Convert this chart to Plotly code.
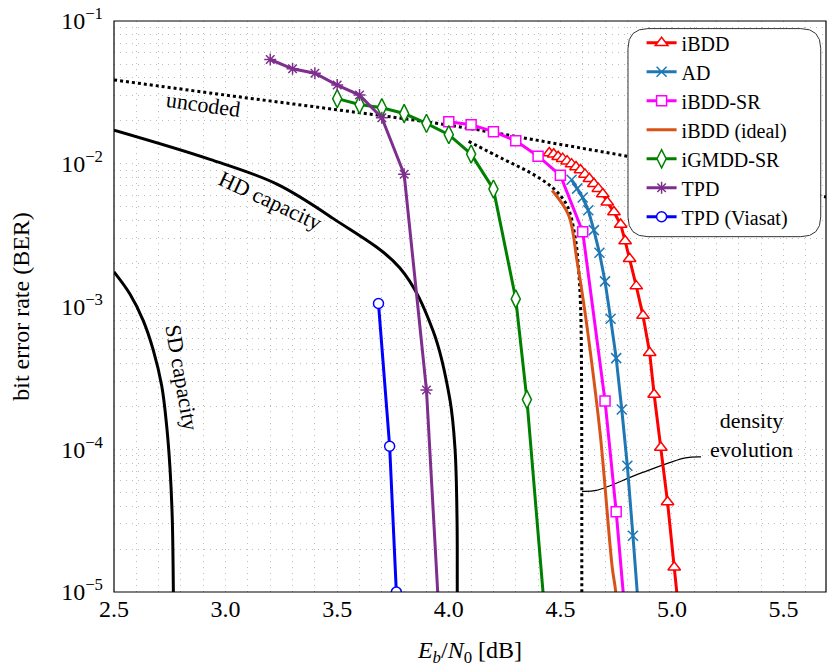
import numpy as np
import plotly.graph_objects as go

# --- data (Eb/N0 in dB, BER) ---

ibdd_x = [4.45, 4.47, 4.49, 4.51, 4.53, 4.55, 4.57, 4.59, 4.61, 4.63, 4.65, 4.67, 4.69,
          4.71, 4.74, 4.77, 4.79, 4.81, 4.84, 4.87, 4.90, 4.92, 4.95, 4.98, 5.01, 5.04]
ibdd_y = [0.0119, 0.01167, 0.01122, 0.01087, 0.01044, 0.00995, 0.0095, 0.00906, 0.00843,
          0.00785, 0.00725, 0.0067, 0.00615, 0.00538, 0.00459, 0.00376, 0.00288, 0.00216,
          0.00139, 8.64e-4, 4.75e-4, 2.42e-4, 1.03e-4, 4.27e-5, 1.49e-5, 5.2e-6]

ad_x = [4.55, 4.575, 4.6, 4.625, 4.65, 4.675, 4.7, 4.725, 4.75, 4.775, 4.8, 4.825, 4.85]
ad_y = [0.00773, 0.0067, 0.0058, 0.00472, 0.00343, 0.00238, 0.0015, 8.2e-4, 4.35e-4,
        1.9e-4, 7.66e-5, 2.48e-5, 7.6e-6]

sr_x = [4.0, 4.1, 4.2, 4.3, 4.4, 4.5, 4.6, 4.7, 4.75, 4.8]
sr_y = [0.0197, 0.0188, 0.0168, 0.0145, 0.0113, 0.0083, 0.00334, 2.18e-4, 3.65e-5, 4.6e-6]

ideal_x = [4.463, 4.537, 4.575, 4.605, 4.635, 4.679, 4.732, 4.747, 4.76]
ideal_y = [0.0065, 0.00436, 0.00207, 0.00104, 4.7e-4, 1.25e-4, 1.5e-5, 1.03e-5, 6e-6]

gmdd_x = [3.5, 3.6, 3.7, 3.8, 3.9, 4.0, 4.1, 4.2, 4.3, 4.35, 4.45]
gmdd_y = [0.0286, 0.026, 0.0247, 0.0225, 0.0192, 0.0160, 0.0117, 0.00665, 0.00113,
          2.23e-4, 3e-6]

tpd_x = [3.2, 3.3, 3.4, 3.5, 3.6, 3.7, 3.8, 3.9, 4.0]
tpd_y = [0.0538, 0.0463, 0.0431, 0.0356, 0.0303, 0.0210, 0.00845, 2.6e-4, 4e-7]

viasat_x = [3.685, 3.735, 3.765]
viasat_y = [1.05e-3, 1.05e-4, 1.0e-5]

uncoded_x = [2.5, 3.0, 3.5, 4.0, 4.5, 5.0, 5.5, 5.7]
uncoded_y = [0.0387, 0.0303, 0.0239, 0.01866, 0.01367, 0.00989, 0.00686, 0.0058]

hd_x = [2.5, 2.93, 3.23, 3.483, 3.78, 3.929, 4.005, 4.028, 4.037, 4.038, 4.039]
hd_y = [0.0172, 0.01074, 0.00721, 0.00413, 0.00187, 6.8e-4, 2.23e-4, 1.0e-4, 3.14e-5,
        1e-5, 5e-6]

sd_x = [2.5, 2.572, 2.631, 2.676, 2.714, 2.736, 2.751, 2.761, 2.766, 2.767]
sd_y = [1.75e-3, 1.22e-3, 7.97e-4, 4.95e-4, 2.77e-4, 1.46e-4, 7.33e-5, 3.31e-5, 1e-5, 5e-6]

de_x = [4.089, 4.246, 4.365, 4.463, 4.53, 4.567, 4.582, 4.59, 4.594, 4.596, 4.596]
de_y = [0.01436, 0.01074, 0.00867, 0.00684, 0.0051, 0.003, 0.00177, 0.00104, 4.85e-4,
        1e-5, 5e-6]

# leader line from the "density evolution" label
leader_x = [4.597, 4.66, 4.86, 5.06, 5.13]
leader_y = [5.07e-5, 5.15e-5, 6.8e-5, 8.7e-5, 8.85e-5]

FONT = "Liberation Serif"
GRID = '#bdbdbd'
GDASH = '1px,5px'

fig = go.Figure()

# reference curves (no legend)
fig.add_trace(go.Scatter(x=uncoded_x, y=uncoded_y, mode='lines', showlegend=False,
                         line=dict(color='black', width=3, dash='dot', shape='spline')))
fig.add_trace(go.Scatter(x=hd_x, y=hd_y, mode='lines', showlegend=False,
                         line=dict(color='black', width=3, shape='spline')))
fig.add_trace(go.Scatter(x=sd_x, y=sd_y, mode='lines', showlegend=False,
                         line=dict(color='black', width=3, shape='spline')))
fig.add_trace(go.Scatter(x=de_x, y=de_y, mode='lines', showlegend=False,
                         line=dict(color='black', width=3, dash='dot', shape='spline')))
fig.add_trace(go.Scatter(x=leader_x, y=leader_y, mode='lines', showlegend=False,
                         line=dict(color='black', width=1.2, shape='spline')))

# simulated curves
series = [
    ('iBDD', ibdd_x, ibdd_y, '#ff0000', 'triangle-up', 11),
    ('AD', ad_x, ad_y, '#1f77b4', 'x-thin', 10),
    ('iBDD-SR', sr_x, sr_y, '#ff00ff', 'square', 10),
    ('iBDD (ideal)', ideal_x, ideal_y, '#d95319', None, 0),
    ('iGMDD-SR', gmdd_x, gmdd_y, '#008000', 'diamond-tall', 13),
    ('TPD', tpd_x, tpd_y, '#7e2f8e', 'asterisk', 10),
    ('TPD (Viasat)', viasat_x, viasat_y, '#0000ff', 'circle', 10),
]

for name, xs, ys, col, sym, size in series:
    if sym is None:
        fig.add_trace(go.Scatter(x=xs, y=ys, name=name, mode='lines',
                                 line=dict(color=col, width=3, shape='spline')))
        continue
    if sym in ('x-thin', 'asterisk'):
        mk = dict(symbol=sym, size=size, color=col, line=dict(color=col, width=1.5))
    else:
        mk = dict(symbol=sym, size=size, color='white', line=dict(color=col, width=1.5))
    fig.add_trace(go.Scatter(x=xs, y=ys, name=name, mode='lines+markers',
                             line=dict(color=col, width=3), marker=mk))

# plot frame
fig.add_shape(type='rect', xref='paper', yref='paper', x0=0, x1=1, y0=0, y1=1,
              line=dict(color='black', width=1.2), layer='above')

# rounded legend box (paper coords)
x0, x1, y0, y1 = 0.7219, 0.9926, 0.6223, 0.9867
rx, ry = 0.028, 0.0345
path = (f"M {x0+rx},{y1} L {x1-rx},{y1} Q {x1},{y1} {x1},{y1-ry} "
        f"L {x1},{y0+ry} Q {x1},{y0} {x1-rx},{y0} L {x0+rx},{y0} "
        f"Q {x0},{y0} {x0},{y0+ry} L {x0},{y1-ry} Q {x0},{y1} {x0+rx},{y1} Z")
fig.add_shape(type='path', path=path, xref='paper', yref='paper', layer='above',
              fillcolor='white', line=dict(color='#333333', width=1))

# text labels (log axis -> log10 positions)
labels = [
    ('uncoded', 2.9, np.log10(0.0262), 8),
    ('HD capacity', 3.2, -2.257, 25),
    ('SD capacity', 2.805, np.log10(3.2e-4), 80),
]
for txt, lx, ly, ang in labels:
    fig.add_annotation(x=lx, y=ly, text=txt, showarrow=False, textangle=ang,
                       font=dict(family=FONT, size=22, color='black'))
fig.add_annotation(x=5.357, y=np.log10(1.25e-4), text='density<br>evolution', showarrow=False,
                   font=dict(family=FONT, size=22, color='black'))

ytick_vals = [1e-5, 1e-4, 1e-3, 1e-2, 1e-1]
ytick_text = ['10<sup>\u22125</sup>', '10<sup>\u22124</sup>', '10<sup>\u22123</sup>',
              '10<sup>\u22122</sup>', '10<sup>\u22121</sup>']

fig.update_xaxes(range=[2.5, 5.69], dtick=0.5, tick0=2.5, tickformat='.1f',
                 showline=False, zeroline=False, ticks='',
                 showgrid=True, gridcolor=GRID, griddash=GDASH, gridwidth=1,
                 minor=dict(dtick=0.1, showgrid=True, gridcolor=GRID, griddash=GDASH),
                 tickfont=dict(family=FONT, size=24, color='black'),
                 title=dict(text='<i>E<sub>b</sub></i>/<i>N</i><sub>0</sub> [dB]',
                            font=dict(family=FONT, size=24, color='black'), standoff=20))
fig.update_yaxes(type='log', range=[-5, -0.9995], tickvals=ytick_vals, ticktext=ytick_text,
                 showline=False, zeroline=False, ticks='', ticklabelstandoff=10,
                 ticklabeloverflow='allow',
                 showgrid=True, gridcolor=GRID, griddash=GDASH, gridwidth=1,
                 minor=dict(dtick='D1', showgrid=True, gridcolor=GRID, griddash=GDASH),
                 tickfont=dict(family=FONT, size=24, color='black'),
                 title=dict(text='bit error rate (BER)',
                            font=dict(family=FONT, size=24, color='black'), standoff=24))

fig.update_layout(
    width=830, height=667,
    margin=dict(l=114, r=4, t=13, b=75),
    paper_bgcolor='white', plot_bgcolor='white',
    font=dict(family=FONT, color='black'),
    legend=dict(x=0.741, y=0.996, xanchor='left', yanchor='top',
                bgcolor='rgba(0,0,0,0)', borderwidth=0,
                font=dict(family=FONT, size=20, color='black'),
                itemwidth=30),
)

fig.write_html("out.html", config={'displayModeBar': False},
               post_script="document.body.style.margin='0';")
